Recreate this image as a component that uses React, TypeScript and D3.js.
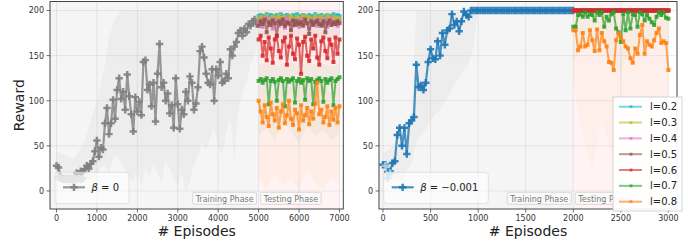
import React, { useRef, useEffect } from "react";
import * as d3 from "d3";

// ---- left panel (beta = 0): training every 50 episodes from 0 to 5000
const leftTrain = [
  28, 26, 16, 14, 13, 14, 13, 14, 13, 15,
  20, 18, 22, 21, 24, 28, 25, 30, 33, 44,
  56, 38, 48, 46, 75, 92, 63, 75, 101, 80,
  112, 125, 102, 110, 90, 129, 105, 85, 66, 104,
  88, 99, 84, 143, 145, 112, 118, 94, 120, 77,
  130, 163, 115, 120, 100, 108, 86, 95, 70, 125,
  96, 69, 90, 85, 110, 100, 127, 120, 90, 97,
  115, 155, 160, 148, 130, 120, 118, 135, 100, 135,
  128, 143, 120, 122, 130, 125, 157, 150, 160, 165,
  175, 178, 172, 180, 176, 185, 183, 188, 190, 185,
  188,
];
// lighter early stretch, episodes 50..650
const leftTrainFaded = [15, 14, 13, 13, 14, 13, 14, 13, 14, 13, 14, 13, 14];
// std band, every 100 episodes from 0 to 5000
const leftBandHi = [
  45, 42, 40, 38, 35, 40, 48, 55, 70, 85, 100, 120, 140, 170, 185, 195, 200, 200,
  200, 200, 200, 200, 200, 200, 200, 200, 200, 200, 200, 200, 200, 200, 200, 200,
  200, 200, 200, 200, 200, 200, 200, 200, 200, 200, 200, 200, 200, 200, 200, 200, 200,
];
const leftBandLo = [
  12, 10, 8, 6, 5, 6, 8, 10, 12, 15, 18, 25, 30, 20, 35, 40, 30, 25,
  15, 10, 20, 5, 25, 15, 30, 20, 10, 35, 25, 15, 5, 20, 0, 10,
  30, 40, 55, 45, 60, 70, 50, 40, 65, 80, 35, 90, 110, 120, 140, 150, 165,
];

// testing, every 50 episodes from 5000 to 7000
const leftL02 = [194, 195, 193, 194, 196, 193, 195, 194, 192, 195, 194, 196, 193, 194, 195, 192, 194, 195, 193, 196, 194, 193, 195, 194, 192, 195, 193, 194, 196, 194, 193, 195, 192, 194, 195, 193, 194, 196, 193, 195, 194];
const leftL03 = [191, 193, 190, 192, 194, 191, 189, 193, 192, 190, 194, 191, 192, 193, 190, 192, 194, 189, 191, 193, 192, 190, 194, 191, 193, 192, 189, 191, 194, 190, 192, 193, 191, 190, 194, 192, 191, 193, 190, 192, 191];
const leftL04 = [186, 190, 182, 188, 192, 184, 189, 180, 191, 186, 183, 190, 187, 181, 192, 185, 188, 183, 190, 186, 182, 191, 184, 189, 187, 180, 190, 185, 188, 183, 191, 186, 184, 190, 182, 188, 192, 185, 187, 183, 189];
const leftL05 = [183, 188, 185, 190, 176, 187, 184, 189, 186, 172, 188, 185, 190, 183, 187, 186, 178, 189, 184, 188, 185, 187, 183, 190, 186, 174, 188, 184, 187, 189, 185, 183, 188, 176, 186, 189, 184, 187, 185, 188, 186];
const leftL06 = [168, 172, 150, 165, 145, 170, 158, 142, 168, 172, 155, 148, 166, 170, 140, 160, 172, 152, 146, 169, 162, 130, 165, 171, 150, 144, 168, 158, 172, 148, 140, 166, 170, 155, 147, 168, 162, 143, 170, 152, 168];
const leftL07 = [122, 124, 120, 123, 125, 96, 122, 124, 121, 100, 123, 125, 122, 94, 124, 121, 123, 125, 98, 122, 124, 120, 123, 101, 125, 122, 124, 96, 121, 123, 125, 122, 99, 124, 120, 123, 125, 95, 122, 124, 126];
const leftL08 = [100, 88, 76, 95, 82, 72, 98, 85, 78, 92, 70, 88, 96, 75, 84, 100, 80, 73, 90, 86, 68, 95, 78, 84, 92, 74, 88, 80, 97, 120, 85, 90, 76, 82, 94, 73, 88, 79, 92, 76, 94];

// testing bands, every 200 episodes from 5000 to 7000
const leftTopBandLo = [172, 168, 175, 170, 165, 174, 169, 172, 166, 171, 173];
const leftTopBandHi = [200, 200, 200, 200, 200, 200, 200, 200, 200, 200, 200];
const leftRedBandLo = [115, 105, 125, 100, 110, 120, 95, 112, 104, 118, 108];
const leftRedBandHi = [192, 194, 190, 195, 192, 193, 191, 194, 192, 190, 193];
const leftGreenBandLo = [62, 70, 55, 78, 66, 52, 74, 60, 68, 56, 64];
const leftGreenBandHi = [140, 142, 138, 141, 143, 139, 142, 140, 141, 138, 142];
const leftOrangeBandLo = [12, 2, 20, 6, 15, 0, 24, 8, 2, 16, 6];
const leftOrangeBandHi = [115, 110, 112, 108, 114, 118, 110, 125, 112, 110, 113];

// ---- right panel (beta = -0.001): training every 25 episodes from 0 to 2000
const rightTrain = [
  29, 29, 21, 22, 31, 33, 62, 70, 50, 70,
  41, 75, 78, 82, 140, 115, 117, 112, 120, 143,
  157, 147, 146, 166, 150, 175, 162, 178, 180, 196,
  184, 188, 177, 188, 199, 195, 193, 200, 200, 200,
  200, 200, 200, 200, 200, 200, 200, 200, 200, 200,
  200, 200, 200, 200, 200, 200, 200, 200, 200, 200,
  200, 200, 200, 200, 200, 200, 200, 200, 200, 200,
  200, 200, 200, 200, 200, 200, 200, 200, 200, 200,
  200,
];
// lighter early stretch, episodes 25..75
const rightTrainFaded = [28, 14, 20];
// std band every 50 episodes from 0 to 1000
const rightBandHi = [42, 45, 50, 58, 62, 68, 80, 199, 200, 200, 200, 200, 200, 200, 200, 200, 200, 200, 200, 200, 200];
const rightBandLo = [18, 15, 12, 14, 10, 22, 30, 55, 62, 68, 78, 85, 90, 100, 108, 118, 125, 135, 140, 160, 200];

// testing every 25 episodes from 2000 to 3000
const rightSaturated = [200, 200, 200, 200, 200, 200, 200, 200, 200, 200, 200, 200, 200, 200, 200, 200, 200, 200, 200, 200, 200, 200, 200, 200, 200, 200, 200, 200, 200, 200, 200, 200, 200, 200, 200, 200, 200, 200, 200, 200, 200];
const rightL07 = [182, 182, 195, 196, 193, 198, 193, 196, 195, 189, 198, 195, 198, 182, 193, 189, 196, 198, 180, 176, 165, 196, 178, 198, 180, 196, 195, 182, 198, 196, 189, 195, 191, 187, 184, 193, 198, 195, 198, 192, 191];
const rightL08 = [178, 178, 156, 160, 175, 160, 162, 178, 167, 155, 179, 156, 175, 166, 160, 143, 142, 134, 167, 175, 171, 166, 160, 158, 147, 142, 158, 152, 173, 184, 152, 166, 162, 160, 167, 175, 180, 164, 166, 164, 134];

// testing bands every 100 episodes from 2000 to 3000
const rightGreenBandLo = [140, 165, 155, 170, 150, 130, 160, 150, 165, 170, 160];
const rightGreenBandHi = [200, 200, 200, 200, 200, 200, 200, 200, 200, 200, 200];
const rightOrangeBandLo = [120, 60, 25, 80, 40, 95, 15, 70, 30, 90, 60];
const rightOrangeBandHi = [200, 200, 200, 200, 200, 200, 200, 200, 200, 200, 200];

const levels = ["l=0.2", "l=0.3", "l=0.4", "l=0.5", "l=0.6", "l=0.7", "l=0.8"];
const levelColors = ["#17becf", "#bcbd22", "#e377c2", "#8c564b", "#d62728", "#2ca02c", "#ff7f0e"];
const yTicks = [0, 50, 100, 150, 200];

const FONT = "DejaVu Sans";
const TOP = 1.5;
const BOTTOM = 209;

type Pt = [number, number];
const toPoints = (vals: number[], start: number, step: number): Pt[] =>
  vals.map((v, i) => [start + i * step, v] as Pt);

function drawPanel(svg: any, cfg: any) {
  const x = d3.scaleLinear().domain(cfg.xDomain).range([cfg.left, cfg.right]);
  const y = d3.scaleLinear().domain([-20, 210]).range([BOTTOM, TOP]);
  const g = svg.append("g");

  const clipId = "clip-" + cfg.id;
  g.append("clipPath")
    .attr("id", clipId)
    .append("rect")
    .attr("x", cfg.left)
    .attr("y", TOP)
    .attr("width", cfg.right - cfg.left)
    .attr("height", BOTTOM - TOP);
  const plot = g.append("g").attr("clip-path", `url(#${clipId})`);

  // phase shading
  plot.append("rect")
    .attr("x", cfg.left).attr("y", TOP)
    .attr("width", x(cfg.split) - cfg.left).attr("height", BOTTOM - TOP)
    .attr("fill", "#f5f5f5");
  plot.append("rect")
    .attr("x", x(cfg.split)).attr("y", TOP)
    .attr("width", x(cfg.end) - x(cfg.split)).attr("height", BOTTOM - TOP)
    .attr("fill", "#fff4f3");

  // grid
  plot.selectAll(".gx").data(cfg.xTicks).enter().append("line")
    .attr("x1", (d: number) => x(d)).attr("x2", (d: number) => x(d))
    .attr("y1", TOP).attr("y2", BOTTOM)
    .attr("stroke", "#b0b0b0").attr("stroke-opacity", 0.3).attr("stroke-width", 0.8);
  plot.selectAll(".gy").data(yTicks).enter().append("line")
    .attr("x1", cfg.left).attr("x2", cfg.right)
    .attr("y1", (d: number) => y(d)).attr("y2", (d: number) => y(d))
    .attr("stroke", "#b0b0b0").attr("stroke-opacity", 0.3).attr("stroke-width", 0.8);

  // bands
  const area = d3.area<[number, number, number]>()
    .x((d) => x(d[0])).y0((d) => y(d[1])).y1((d) => y(d[2]));
  cfg.bands.forEach((b: any) => {
    const pts = b.lo.map((v: number, i: number) => [b.start + i * b.step, v, b.hi[i]]);
    plot.append("path").attr("d", area(pts)).attr("fill", b.color).attr("fill-opacity", b.opacity);
  });

  const line = d3.line<Pt>().x((d) => x(d[0])).y((d) => y(d[1]));
  const cross = d3.symbol(d3.symbolCross, 30)();
  const square = d3.symbol(d3.symbolSquare, 16)();

  const drawSeries = (pts: Pt[], color: string, lw: number, op: number, marker: string, mop: number) => {
    plot.append("path").attr("d", line(pts)).attr("fill", "none")
      .attr("stroke", color).attr("stroke-width", lw).attr("stroke-opacity", op)
      .attr("stroke-linejoin", "round");
    plot.append("g").selectAll("path").data(pts).enter().append("path")
      .attr("d", marker)
      .attr("transform", (d: Pt) => `translate(${x(d[0])},${y(d[1])})`)
      .attr("fill", color).attr("fill-opacity", mop);
  };

  drawSeries(cfg.train, cfg.trainColor, 2.2, 0.8, cross, 0.9);
  drawSeries(cfg.faded, cfg.fadedColor, 2.2, 0.9, cross, 0.95);
  cfg.test.forEach((s: Pt[], i: number) => drawSeries(s, levelColors[i], 2, 0.7, square, 0.85));

  // phase labels
  const phase = (label: string, anchor: string, tx: number) => {
    const box = g.append("rect");
    const t = g.append("text").attr("x", tx).attr("y", 201.5)
      .attr("text-anchor", anchor).attr("font-family", FONT).attr("font-size", 8)
      .attr("fill", "#7a7a7a").text(label);
    const w = (t.node() as SVGTextElement).getComputedTextLength();
    const bx = anchor === "end" ? tx - w - 3 : tx - 3;
    box.attr("x", bx).attr("y", 192.3).attr("width", w + 6).attr("height", 12)
      .attr("rx", 1.5).attr("fill", "#fafafa").attr("fill-opacity", 0.8)
      .attr("stroke", "#d0d0d0").attr("stroke-width", 0.8);
  };
  phase("Training Phase", "end", x(cfg.split) - 5);
  phase("Testing Phase", "start", x(cfg.split) + 5);

  // spines
  g.append("rect").attr("x", cfg.left).attr("y", TOP)
    .attr("width", cfg.right - cfg.left).attr("height", BOTTOM - TOP)
    .attr("fill", "none").attr("stroke", "#444").attr("stroke-width", 1);

  // ticks
  cfg.xTicks.forEach((t: number) => {
    g.append("line").attr("x1", x(t)).attr("x2", x(t)).attr("y1", BOTTOM).attr("y2", BOTTOM + 3.5)
      .attr("stroke", "#444").attr("stroke-width", 0.8);
    g.append("text").attr("x", x(t)).attr("y", 220.8).attr("text-anchor", "middle")
      .attr("font-family", FONT).attr("font-size", 8).attr("fill", "#333").text(String(t));
  });
  yTicks.forEach((t) => {
    g.append("line").attr("x1", cfg.left - 3.5).attr("x2", cfg.left).attr("y1", y(t)).attr("y2", y(t))
      .attr("stroke", "#444").attr("stroke-width", 0.8);
    g.append("text").attr("x", cfg.left - 6).attr("y", y(t) + 2.9).attr("text-anchor", "end")
      .attr("font-family", FONT).attr("font-size", 8).attr("fill", "#333").text(String(t));
  });

  g.append("text").attr("x", (cfg.left + cfg.right) / 2).attr("y", 235.5)
    .attr("text-anchor", "middle").attr("font-family", FONT).attr("font-size", 14)
    .attr("fill", "#222").text("# Episodes");
  if (cfg.yLabel) {
    g.append("text").attr("transform", `translate(19,${(TOP + BOTTOM) / 2}) rotate(-90)`)
      .attr("dy", "0.35em").attr("text-anchor", "middle").attr("font-family", FONT)
      .attr("font-size", 14).attr("fill", "#222").text("Reward");
  }

  // beta legend
  const lx = cfg.left + cfg.legendOffset;
  const lbox = g.append("rect");
  const lt = g.append("text").attr("x", lx + 36.5).attr("y", 190.8)
    .attr("font-family", FONT).attr("font-size", 10).attr("fill", "#222");
  lt.append("tspan").attr("font-style", "italic").text("β");
  lt.append("tspan").text(" = " + cfg.betaText);
  const lw = (lt.node() as SVGTextElement).getComputedTextLength();
  lbox.attr("x", lx).attr("y", 172.3).attr("width", 36.5 + lw + 10).attr("height", 31.3)
    .attr("rx", 3).attr("fill", "#ffffff").attr("fill-opacity", 0.55)
    .attr("stroke", "#dcdcdc").attr("stroke-width", 0.8);
  g.append("line").attr("x1", lx + 8).attr("x2", lx + 30).attr("y1", 187.3).attr("y2", 187.3)
    .attr("stroke", cfg.trainColor).attr("stroke-width", 2.2).attr("stroke-opacity", 0.8);
  g.append("path").attr("d", cross).attr("transform", `translate(${lx + 19},187.3)`)
    .attr("fill", cfg.trainColor).attr("fill-opacity", 0.9);

  // level legend
  if (cfg.levelLegend) {
    g.append("rect").attr("x", 613).attr("y", 97).attr("width", 69).attr("height", 114)
      .attr("fill", "#ffffff").attr("fill-opacity", 0.92)
      .attr("stroke", "#c8c8c8").attr("stroke-width", 0.8);
    const small = d3.symbol(d3.symbolSquare, 8)();
    levels.forEach((lab, i) => {
      const ry = 106.7 + i * 15.83;
      g.append("line").attr("x1", 619).attr("x2", 642).attr("y1", ry).attr("y2", ry)
        .attr("stroke", levelColors[i]).attr("stroke-width", 2).attr("stroke-opacity", 0.6);
      g.append("path").attr("d", small).attr("transform", `translate(631,${ry})`)
        .attr("fill", levelColors[i]).attr("fill-opacity", 0.75);
      g.append("text").attr("x", 650).attr("y", ry + 3.6).attr("font-family", FONT)
        .attr("font-size", 10).attr("fill", "#222").text(lab);
    });
  }
}

function App() {
  const svgRef = useRef<SVGSVGElement>(null);

  useEffect(() => {
    if (!svgRef.current) return;
    const svg = d3.select(svgRef.current);
    svg.selectAll("*").remove();

    const leftTests = [leftL02, leftL03, leftL04, leftL05, leftL06, leftL07, leftL08];
    drawPanel(svg, {
      id: "left",
      left: 50,
      right: 343.3,
      xDomain: [-160, 7094],
      split: 5000,
      end: 7000,
      xTicks: [0, 1000, 2000, 3000, 4000, 5000, 6000, 7000],
      yLabel: true,
      train: toPoints(leftTrain, 0, 50),
      faded: toPoints(leftTrainFaded, 50, 50),
      trainColor: "#7f7f7f",
      fadedColor: "#c6c6c6",
      test: leftTests.map((s) => toPoints(s, 5000, 50)),
      bands: [
        { lo: leftBandLo, hi: leftBandHi, start: 0, step: 100, color: "#c0c0c0", opacity: 0.15 },
        { lo: leftTopBandLo, hi: leftTopBandHi, start: 5000, step: 200, color: "#8c564b", opacity: 0.07 },
        { lo: leftRedBandLo, hi: leftRedBandHi, start: 5000, step: 200, color: "#d62728", opacity: 0.04 },
        { lo: leftGreenBandLo, hi: leftGreenBandHi, start: 5000, step: 200, color: "#2ca02c", opacity: 0.05 },
        { lo: leftOrangeBandLo, hi: leftOrangeBandHi, start: 5000, step: 200, color: "#ff7f0e", opacity: 0.05 },
      ],
      legendOffset: 5,
      betaText: "0",
      levelLegend: false,
    });

    const rightTests = [rightSaturated, rightSaturated, rightSaturated, rightSaturated, rightSaturated, rightL07, rightL08];
    drawPanel(svg, {
      id: "right",
      left: 379,
      right: 677,
      xDomain: [-42, 3090],
      split: 2000,
      end: 3000,
      xTicks: [0, 500, 1000, 1500, 2000, 2500, 3000],
      yLabel: false,
      train: toPoints(rightTrain, 0, 25),
      faded: toPoints(rightTrainFaded, 25, 25),
      trainColor: "#1f77b4",
      fadedColor: "#a9cbe3",
      test: rightTests.map((s) => toPoints(s, 2000, 25)),
      bands: [
        { lo: rightBandLo, hi: rightBandHi, start: 0, step: 50, color: "#c0c0c0", opacity: 0.15 },
        { lo: rightGreenBandLo, hi: rightGreenBandHi, start: 2000, step: 100, color: "#2ca02c", opacity: 0.04 },
        { lo: rightOrangeBandLo, hi: rightOrangeBandHi, start: 2000, step: 100, color: "#ff7f0e", opacity: 0.04 },
      ],
      legendOffset: 4.7,
      betaText: "\u22120.001",
      levelLegend: true,
    });
  }, []);

  return (
    <svg
      ref={svgRef}
      width={697}
      height={242}
      style={{ position: "absolute", left: 0, top: 0, background: "#fff" }}
    ></svg>
  );
}

export default App;
